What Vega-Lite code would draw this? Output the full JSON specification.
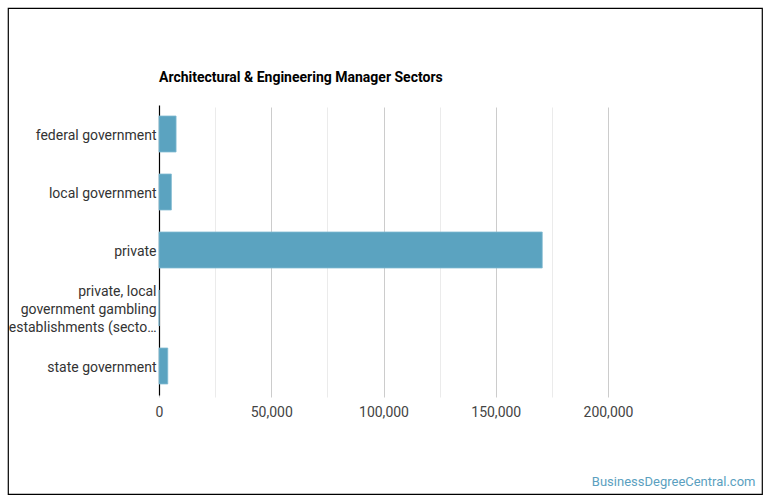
{
  "$schema": "https://vega.github.io/schema/vega-lite/v6.json",
  "autosize": {"type": "none"},
  "padding": {"left": 8, "top": 8, "right": 8, "bottom": 9},
  "width": 754,
  "height": 486,
  "background": "white",
  "title": {
    "text": "Architectural & Engineering Manager Sectors",
    "anchor": "start",
    "frame": "group",
    "font": "Roboto",
    "fontSize": 14,
    "fontWeight": "bold",
    "color": "#000000",
    "dx": 151,
    "offset": -77
  },
  "config": {
    "view": {"stroke": "#000000", "strokeWidth": 1.2},
    "font": "Roboto"
  },
  "data": {
    "values": [
      {"sector": "federal government", "employees": 7600},
      {"sector": "local government", "employees": 5500},
      {"sector": "private", "employees": 170700},
      {"sector": "private, local government gambling establishments (sector 71)", "employees": 60},
      {"sector": "state government", "employees": 3900}
    ]
  },
  "mark": {"type": "bar", "color": "#5ba3c0", "stroke": "#7fb9d0", "strokeWidth": 0.8},
  "encoding": {
    "y": {
      "field": "sector",
      "type": "nominal",
      "sort": null,
      "scale": {"range": [97, 387], "paddingInner": 0.38, "paddingOuter": 0.19},
      "axis": {
        "title": null,
        "offset": -151,
        "domainColor": "#000000",
        "domainWidth": 1.2,
        "ticks": false,
        "labelPadding": 3,
        "labelFont": "Roboto",
        "labelFontSize": 14,
        "labelColor": "#333333",
        "labelLimit": 200,
        "labelLineHeight": 18,
        "labelOffset": {"condition": {"test": "indexof(datum.value, 'gambling') >= 0", "value": -16}, "value": 2},
        "labelExpr": "indexof(datum.value, 'gambling') >= 0 ? ['private, local', 'government gambling', 'establishments (secto…'] : datum.label"
      }
    },
    "x": {
      "field": "employees",
      "type": "quantitative",
      "scale": {"domain": [0, 200000], "range": [151, 600], "nice": false},
      "axis": {
        "values": [0, 25000, 50000, 75000, 100000, 125000, 150000, 175000, 200000],
        "format": ",d",
        "labelExpr": "datum.value % 50000 === 0 ? datum.label : ''",
        "labelFlush": false,
        "offset": -99,
        "domain": false,
        "ticks": false,
        "labelPadding": 10,
        "labelFont": "Roboto",
        "labelFontSize": 14,
        "labelColor": "#444444",
        "grid": true,
        "gridColor": {"condition": {"test": "datum.value % 50000 === 0", "value": "#cccccc"}, "value": "#ebebeb"},
        "title": "BusinessDegreeCentral.com",
        "titleFont": "Roboto",
        "titleFontSize": 13,
        "titleFontWeight": "normal",
        "titleColor": "#5b9fc0",
        "titleAlign": "right",
        "titleAnchor": null,
        "titleBaseline": "alphabetic",
        "titleX": 747,
        "titleY": 90
      }
    }
  }
}
